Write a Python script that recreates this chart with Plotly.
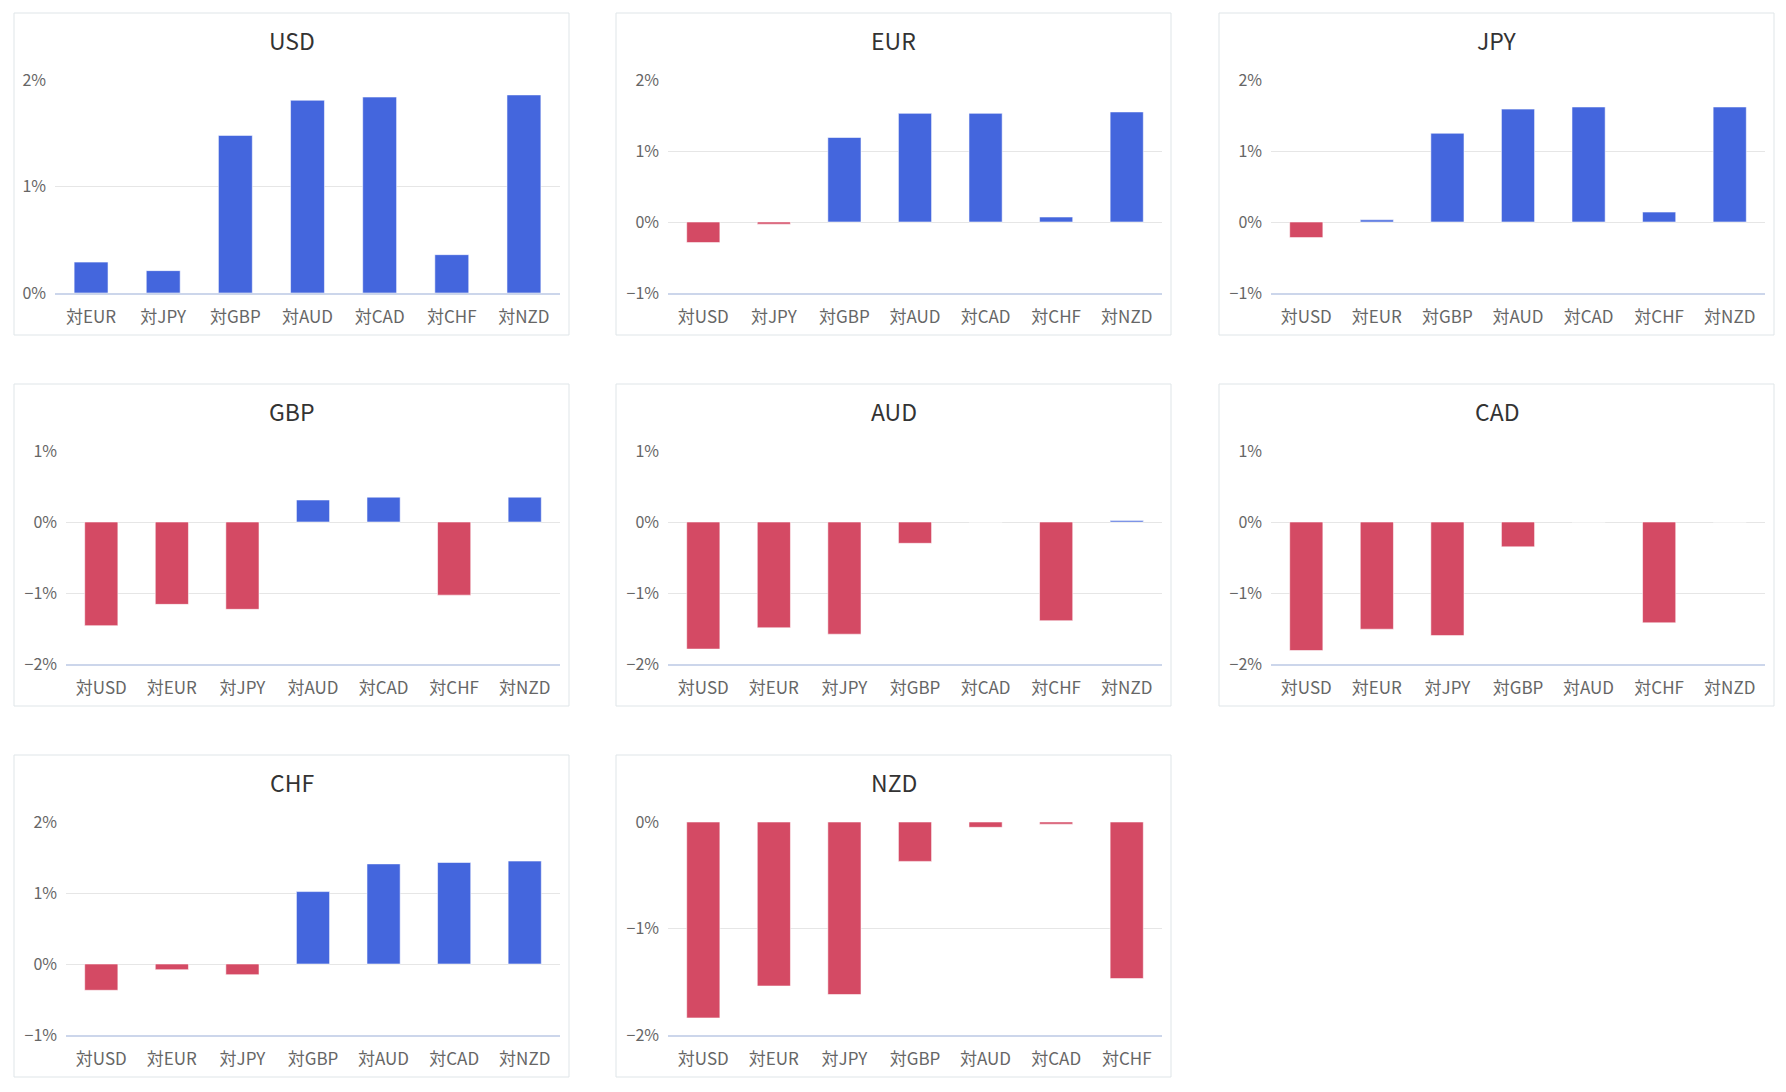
import plotly.graph_objects as go

# ---------------- data ----------------
panel_titles = ["USD", "EUR", "JPY", "GBP", "AUD", "CAD", "CHF", "NZD"]

usd_cats = ["対EUR", "対JPY", "対GBP", "対AUD", "対CAD", "対CHF", "対NZD"]
usd_vals = [0.29, 0.21, 1.48, 1.81, 1.84, 0.36, 1.86]

eur_cats = ["対USD", "対JPY", "対GBP", "対AUD", "対CAD", "対CHF", "対NZD"]
eur_vals = [-0.29, -0.03, 1.19, 1.53, 1.53, 0.07, 1.55]

jpy_cats = ["対USD", "対EUR", "対GBP", "対AUD", "対CAD", "対CHF", "対NZD"]
jpy_vals = [-0.22, 0.03, 1.25, 1.59, 1.62, 0.14, 1.62]

gbp_cats = ["対USD", "対EUR", "対JPY", "対AUD", "対CAD", "対CHF", "対NZD"]
gbp_vals = [-1.46, -1.16, -1.23, 0.31, 0.35, -1.03, 0.35]

aud_cats = ["対USD", "対EUR", "対JPY", "対GBP", "対CAD", "対CHF", "対NZD"]
aud_vals = [-1.79, -1.49, -1.58, -0.30, 0.0, -1.39, 0.02]

cad_cats = ["対USD", "対EUR", "対JPY", "対GBP", "対AUD", "対CHF", "対NZD"]
cad_vals = [-1.81, -1.51, -1.60, -0.35, 0.0, -1.42, 0.0]

chf_cats = ["対USD", "対EUR", "対JPY", "対GBP", "対AUD", "対CAD", "対NZD"]
chf_vals = [-0.37, -0.08, -0.15, 1.02, 1.41, 1.43, 1.45]

nzd_cats = ["対USD", "対EUR", "対JPY", "対GBP", "対AUD", "対CAD", "対CHF"]
nzd_vals = [-1.84, -1.54, -1.62, -0.37, -0.05, -0.02, -1.47]

all_cats = [usd_cats, eur_cats, jpy_cats, gbp_cats, aud_cats, cad_cats, chf_cats, nzd_cats]
all_vals = [usd_vals, eur_vals, jpy_vals, gbp_vals, aud_vals, cad_vals, chf_vals, nzd_vals]

y_ranges = [[0, 2], [-1, 2], [-1, 2], [-2, 1], [-2, 1], [-2, 1], [-1, 2], [-2, 0]]

# ---------------- style / layout ----------------
PAGE_W, PAGE_H = 1786, 1092
OFF = 8                      # default page body margin
W, H = PAGE_W - 2 * OFF, PAGE_H - 2 * OFF
POS = "#4466dd"
NEG = "#d44a64"
FONT = "Noto Sans CJK JP"

# panel frame boxes (page px): left, top, right, bottom
panel_boxes = [
    (14, 13, 569, 335), (616, 13, 1171, 335), (1219, 13, 1774, 335),
    (14, 384, 569, 706), (616, 384, 1171, 706), (1219, 384, 1774, 706),
    (14, 755, 569, 1077), (616, 755, 1171, 1077),
]
# plot areas (page px)
plot_boxes = [
    (55, 80, 560, 293), (668, 80, 1162, 293), (1271, 80, 1765, 293),
    (66, 451, 560, 664), (668, 451, 1162, 664), (1271, 451, 1765, 664),
    (66, 822, 560, 1035), (668, 822, 1162, 1035),
]


def px(x):
    return (x - OFF) / W


def py(y):
    return 1 - (y - OFF) / H


def pct_label(v):
    return ("\u2212" if v < 0 else "") + f"{abs(v)}%"


fig = go.Figure()
layout = dict(
    width=W, height=H, autosize=False,
    margin=dict(l=0, r=0, t=0, b=0, pad=0, autoexpand=False),
    paper_bgcolor="white", plot_bgcolor="white",
    showlegend=False, bargap=0.53,
    font=dict(family=FONT, color="#666666", size=16),
    shapes=[], annotations=[],
)

for i in range(8):
    sfx = "" if i == 0 else str(i + 1)
    cats, vals = all_cats[i], all_vals[i]
    colors = [POS if v >= 0 else NEG for v in vals]
    fig.add_trace(go.Bar(
        x=cats, y=vals, xaxis="x" + sfx, yaxis="y" + sfx,
        marker=dict(color=colors, line=dict(color="rgba(255,255,255,0.55)", width=1)),
        hovertemplate="%{x}: %{y:.2f}%<extra></extra>",
    ))
    l, t, r, b = plot_boxes[i]
    layout["xaxis" + sfx] = dict(
        domain=[px(l), px(r)], anchor="y" + sfx,
        showgrid=False, zeroline=False,
        showline=True, linecolor="#ccd6eb", linewidth=1.5,
        ticks="", ticklabelstandoff=8, automargin=False,
        tickfont=dict(size=17, color="#666666", family=FONT),
        fixedrange=True,
    )
    lo, hi = y_ranges[i]
    tv = list(range(lo, hi + 1))
    layout["yaxis" + sfx] = dict(
        domain=[py(b), py(t)], anchor="x" + sfx,
        range=[lo, hi], tickmode="array", tickvals=tv,
        ticktext=[pct_label(v) for v in tv],
        showgrid=True, gridcolor="#e6e6e6", gridwidth=1,
        zeroline=False, showline=False, ticks="", ticklabelstandoff=8,
        automargin=False,
        tickfont=dict(size=16, color="#666666", family=FONT),
        fixedrange=True,
    )
    pl, pt, pr, pb = panel_boxes[i]
    layout["shapes"].append(dict(
        type="rect", xref="paper", yref="paper",
        x0=px(pl), x1=px(pr), y0=py(pb), y1=py(pt),
        line=dict(color="#dfe5e8", width=1), fillcolor="rgba(0,0,0,0)", layer="below",
    ))
    layout["annotations"].append(dict(
        text=panel_titles[i], xref="paper", yref="paper",
        x=px((pl + pr) / 2), y=py(pt + 27),
        xanchor="center", yanchor="middle", showarrow=False,
        font=dict(size=23, color="#333333", family=FONT),
    ))

fig.update_layout(**layout)
fig.write_html("out.html", config={"displayModeBar": False, "responsive": False})
